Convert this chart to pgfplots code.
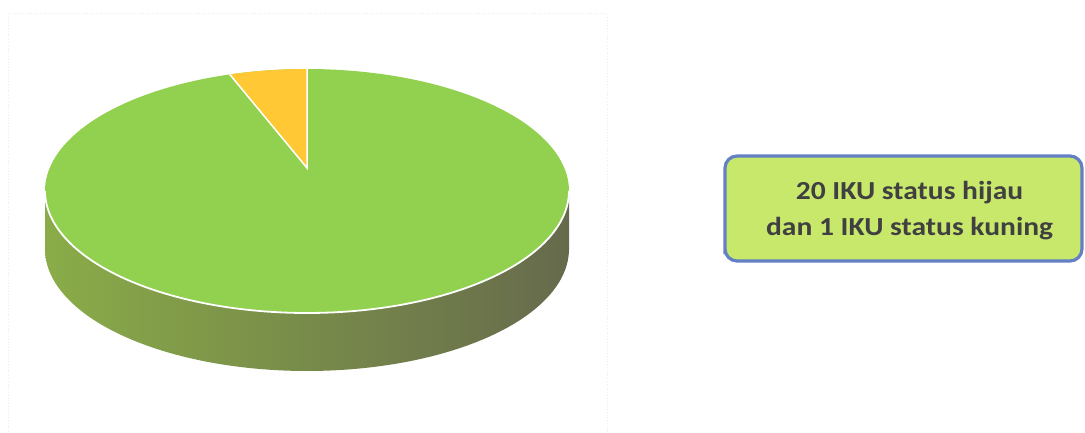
\documentclass[border=0pt]{standalone}
\usepackage{pgfplots}
\pgfplotsset{compat=1.18}
\usepackage{fontspec}
\setmainfont{Carlito}
\definecolor{topgreen}{RGB}{146,208,80}
\definecolor{sliceyellow}{RGB}{255,200,52}
\definecolor{sideL}{RGB}{138,172,72}
\definecolor{sideM}{RGB}{124,142,78}
\definecolor{sideR}{RGB}{102,106,76}
\definecolor{boxfill}{RGB}{200,232,108}
\definecolor{boxline}{RGB}{100,128,196}
\definecolor{txt}{RGB}{64,64,64}
\begin{document}
\begin{tikzpicture}
\begin{axis}[x=1pt, y=1pt, scale only axis, xmin=0, xmax=1085, ymin=0, ymax=432,
  hide axis, clip=false]
% faint frame of the chart area
\addplot[gray!15, dotted, line width=0.8pt] coordinates {(8,0) (8,419) (607,419) (607,0)};
% side of the pie (values: 20 hijau, 1 kuning)
\addplot[draw=none, left color=sideL, middle color=sideM, right color=sideR,
  domain=0:360, samples=181] ({307+262*cos(x)}, {183+122*sin(x)});
\addplot[draw=none, left color=sideL, middle color=sideM, right color=sideR]
  coordinates {(45,183) (569,183) (569,241) (45,241) (45,183)};
% top face: green slice (20 of 21)
\addplot[draw=none, fill=topgreen, domain=0:360, samples=181]
  ({307+262*cos(x)}, {241+122*sin(x)});
% white rim on front edge
\addplot[white, line width=1.8pt, domain=180:360, samples=121]
  ({307+262*cos(x)}, {241+122*sin(x)});
% yellow slice (1 of 21): from 90 deg to 90+360/21 deg
\addplot[draw=none, fill=sliceyellow] coordinates {
  (307,264) (307,363) (295.57,362.88) (284.16,362.54) (272.80,361.96)
  (261.50,361.15) (250.29,360.11) (239.19,358.84) (229.77,357.58) (307,264)};
\addplot[white, line width=1.5pt] coordinates {(229.77,357.58) (307,264) (307,363)};
% text box
\addplot[draw=boxline, line width=3.2pt, fill=boxfill, rounded corners=12pt]
  coordinates {(725,171) (1082,171) (1082,276) (725,276) (725,171)} -- cycle;
\node[font=\fontsize{26}{36}\selectfont\bfseries, text=txt, align=center]
  at (axis cs:909.5,221) {\scalebox{1.135}[1]{20 IKU status hijau}\\\scalebox{1.135}[1]{dan 1 IKU status kuning}};
\end{axis}
\pgfresetboundingbox
\useasboundingbox (0,0) rectangle (1085pt,432pt);
\end{tikzpicture}
\end{document}
